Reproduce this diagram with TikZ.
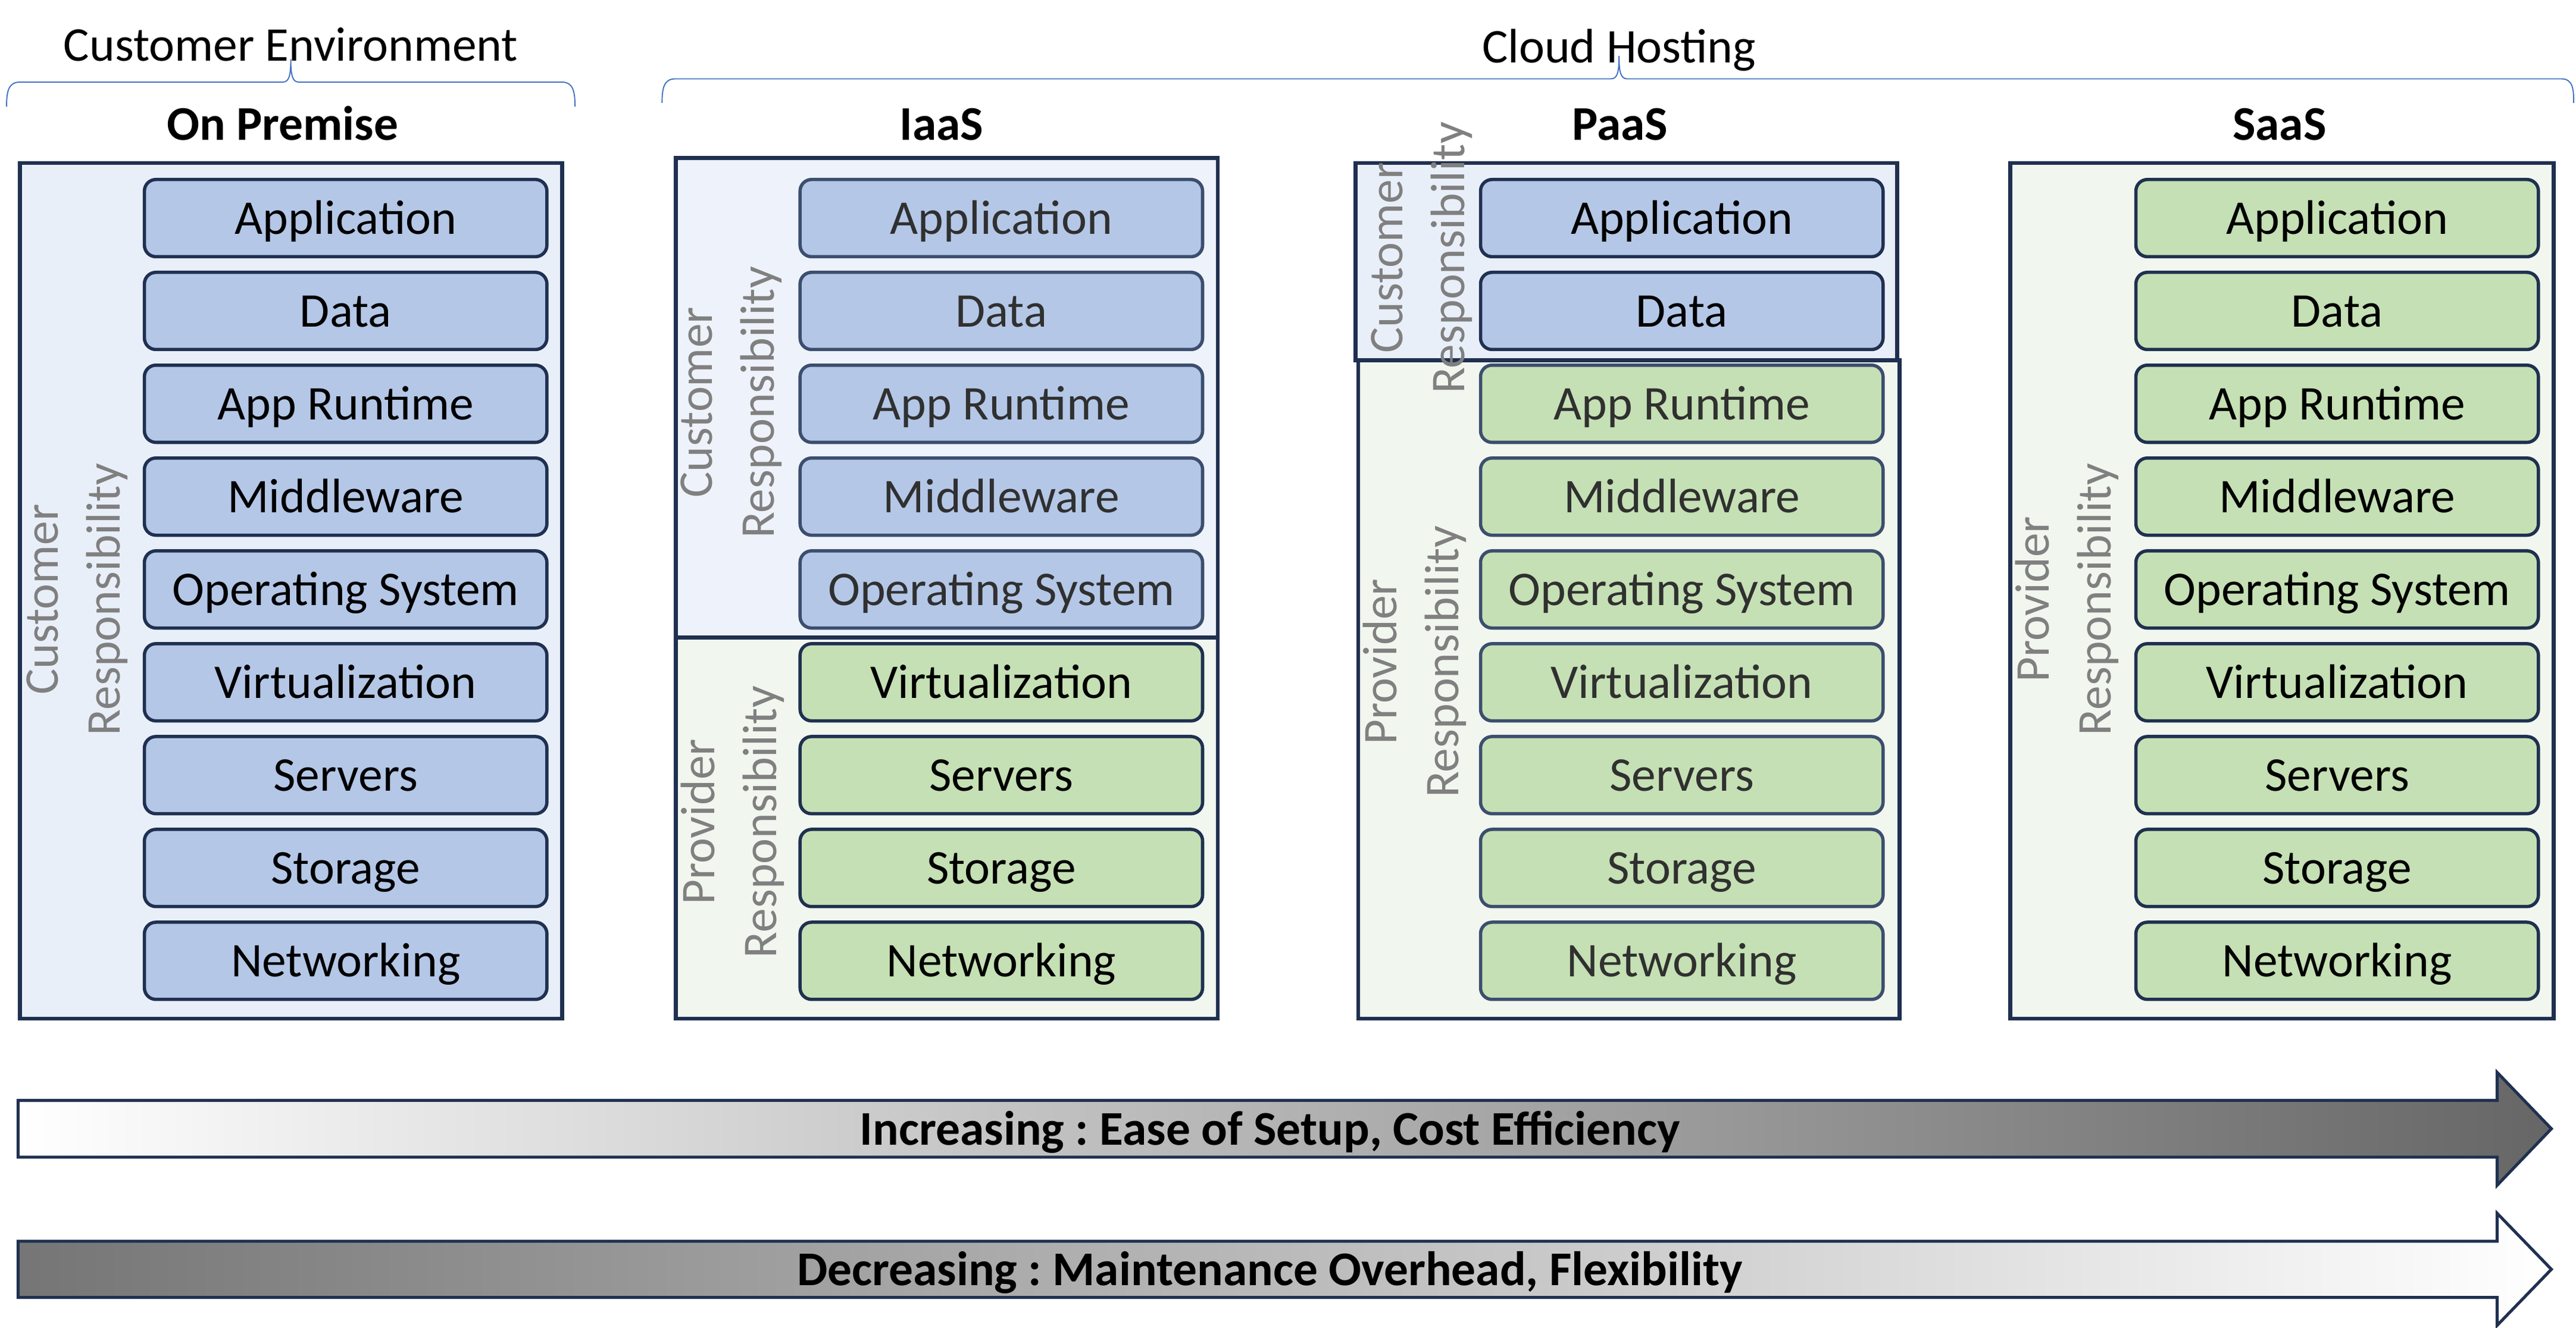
\documentclass[tikz,border=0pt]{standalone}
\usepackage{fontspec}
\setmainfont{Carlito}
\frenchspacing
\definecolor{navy}{HTML}{1F3050}
\definecolor{dimnavy}{HTML}{3C4E6E}
\definecolor{bluebox}{HTML}{B4C7E7}
\definecolor{greenbox}{HTML}{C5E0B4}
\definecolor{contblue}{HTML}{E9EFF9}
\definecolor{contblueb}{HTML}{EEF2FA}
\definecolor{contgreen}{HTML}{F1F6EF}
\definecolor{respgray}{HTML}{808080}
\definecolor{dimtext}{HTML}{303030}
\definecolor{bracecol}{HTML}{4472C4}
\definecolor{arrgray}{HTML}{666666}
\begin{document}
\begin{tikzpicture}[x=0.5pt,y=-0.5pt,
  every node/.style={font=\fontsize{14.75pt}{17.7pt}\selectfont},
  cont/.style={draw=navy, line width=1.25pt, inner sep=0pt, anchor=north west},
  layer/.style={draw=navy, rounded corners=3.5pt, line width=1pt, inner sep=0pt,
    minimum width=122.5pt, minimum height=23.5pt, text height=9.6pt, text depth=0pt},
  bluelayer/.style={layer, fill=bluebox},
  greenlayer/.style={layer, fill=greenbox},
  dimlayer/.style={draw=dimnavy, text=dimtext},
  resp/.style={rotate=90, align=center, text=respgray, inner sep=0pt,
    font=\fontsize{14.75pt}{18.85pt}\selectfont},
  title/.style={anchor=base, font=\fontsize{14.75pt}{17.7pt}\selectfont\bfseries},
  grouptitle/.style={anchor=base},
  brace/.style={draw=bracecol, line width=0.35pt},
  arrowshape/.style={draw=navy, line width=0.9pt, line join=miter},
  arrowtext/.style={anchor=base, font=\fontsize{14.75pt}{17.7pt}\selectfont\bfseries}
]
\useasboundingbox (0,0) rectangle (1568,808.6);

% group titles and braces
\node[grouptitle] (custenv) at (177,37) {Customer Environment};
\node[grouptitle] (cloud) at (985.5,38.4) {Cloud Hosting};
\path[brace] (4,65) .. controls (4,56) and (5,50) .. (12,50) -- (172,50)
  .. controls (176,50) and (177,46) .. (177,36)
  .. controls (177,46) and (178,50) .. (182,50) -- (342,50)
  .. controls (349,50) and (350,56) .. (350,65);
\path[brace] (403,62.6) .. controls (403,54) and (404,48) .. (411,48) -- (980.5,48)
  .. controls (984.5,48) and (985.5,44) .. (985.5,34)
  .. controls (985.5,44) and (986.5,48) .. (990.5,48) -- (1559,48)
  .. controls (1566,48) and (1566.6,54) .. (1566.6,62.6);

% column titles
\node[title] (tOP) at (172,85.3) {On Premise};
\node[title] (tIA) at (573,85.3) {IaaS};
\node[title] (tPA) at (986,85.3) {PaaS};
\node[title] (tSA) at (1387.5,85.3) {SaaS};

% containers
\node[cont, fill=contblue, minimum width=165pt, minimum height=260.5pt] (cOP) at (11,98) {};
\node[cont, fill=contgreen, minimum width=165pt, minimum height=116pt] (cIAp) at (410,387) {};
\node[cont, fill=contblueb, minimum width=165pt, minimum height=146pt] (cIAc) at (410,95) {};
\node[cont, fill=contgreen, minimum width=164.75pt, minimum height=200.5pt] (cPAp) at (825.5,218) {};
\node[cont, fill=contblue, minimum width=164.75pt, minimum height=60pt] (cPAc) at (824,98) {};
\node[cont, fill=contgreen, minimum width=165.25pt, minimum height=260.5pt] (cSA) at (1222.5,98) {};

% layers
\foreach \t [count=\i from 0] in {Application,Data,App Runtime,Middleware,Operating System,Virtualization,Servers,Storage,Networking}{
  \pgfmathsetmacro\yy{132.8+56.53*\i}
  \node[bluelayer] (op\i) at (210.4,\yy) {\t};
  \ifnum\i<5
    \node[bluelayer, dimlayer] (ia\i) at (609.5,\yy) {\t};
  \else
    \node[greenlayer] (ia\i) at (609.5,\yy) {\t};
  \fi
  \ifnum\i<2
    \node[bluelayer] (pa\i) at (1023.7,\yy) {\t};
  \else
    \node[greenlayer, dimlayer] (pa\i) at (1023.7,\yy) {\t};
  \fi
  \node[greenlayer] (sa\i) at (1422.6,\yy) {\t};
}

% responsibility labels
\node[resp] (rOP) at (47,365) {Customer\\Responsibility};
\node[resp] (rIAc) at (445,245) {Customer\\Responsibility};
\node[resp] (rIAp) at (446,500.5) {Provider\\Responsibility};
\node[resp] (rPAc) at (865.5,157) {Customer\\Responsibility};
\node[resp] (rPAp) at (861,403) {Provider\\Responsibility};
\node[resp] (rSA) at (1258,365) {Provider\\Responsibility};

% arrows
\path[arrowshape, left color=white, right color=arrgray]
  (11,670) -- (1520,670) -- (1520,653) -- (1553,687.3) -- (1520,721.7) -- (1520,704.6) -- (11,704.6) -- cycle;
\path[arrowshape, left color=arrgray!90, right color=white]
  (11,755.8) -- (1520,755.8) -- (1520,738.8) -- (1553,772.9) -- (1520,807) -- (1520,790) -- (11,790) -- cycle;
\node[arrowtext] (inc) at (773,697.4) {Increasing : Ease of Setup, Cost Efficiency};
\node[arrowtext] (dec) at (773,782.8) {Decreasing : Maintenance Overhead, Flexibility};
\end{tikzpicture}
\end{document}
